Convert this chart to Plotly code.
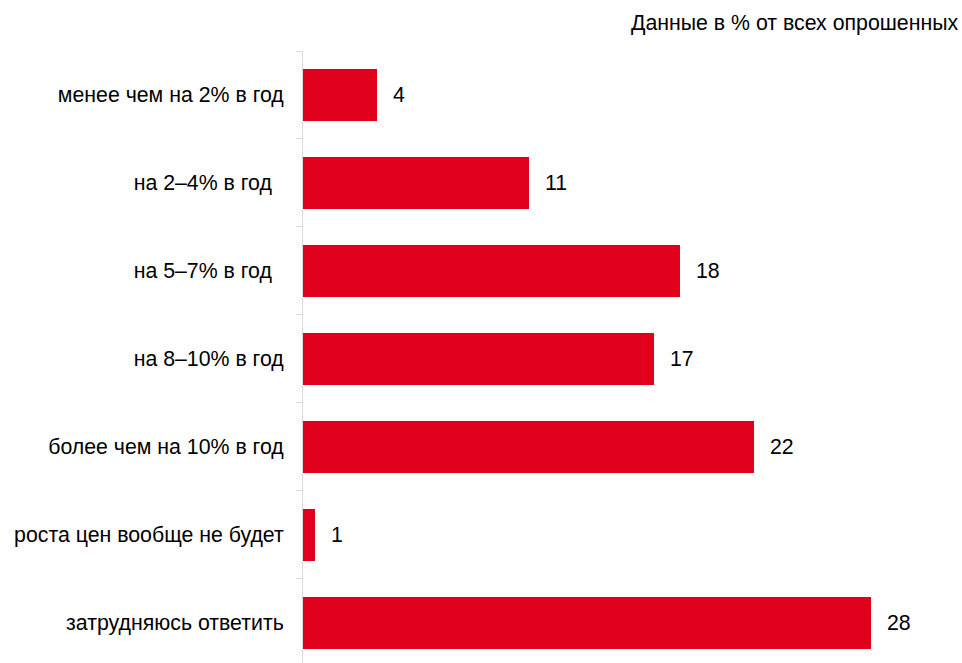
import plotly.graph_objects as go

categories = [
    "менее чем на 2% в год",
    "на 2–4% в год\u00a0\u00a0",
    "на 5–7% в год\u00a0\u00a0",
    "на 8–10% в год",
    "более чем на 10% в год",
    "роста цен вообще не будет",
    "затрудняюсь ответить",
]
values = [3.6, 11.0, 18.4, 17.1, 22.0, 0.6, 27.7]
value_labels = ["4", "11", "18", "17", "22", "1", "28"]
note = "Данные в % от всех опрошенных"

RED = "#E0001B"
FONT = "Liberation Sans, Arial, sans-serif"
FS = 21.3

fig = go.Figure()
fig.add_trace(go.Bar(
    y=categories, x=values, orientation="h",
    marker=dict(color=RED, line=dict(width=0)),
    width=0.59, hoverinfo="skip",
))

for c, v, t in zip(categories, values, value_labels):
    fig.add_annotation(x=v, y=c, text=t, showarrow=False, xanchor="left",
                       xshift=14, font=dict(family=FONT, size=FS, color="#000000"))

fig.add_annotation(xref="paper", yref="paper", x=1, y=1, xshift=42, yshift=28,
                   xanchor="right", yanchor="middle", text=note, showarrow=False,
                   font=dict(family=FONT, size=FS, color="#000000"))

fig.update_layout(
    width=962, height=663,
    margin=dict(l=303, r=44, t=51, b=0, autoexpand=False),
    plot_bgcolor="white", paper_bgcolor="white",
    showlegend=False, bargap=0,
    font=dict(family=FONT, size=FS, color="#000000"),
)
fig.update_xaxes(range=[0, 30], visible=False, showgrid=False, zeroline=False,
                 automargin=False)
fig.update_yaxes(
    type="category", categoryorder="array", categoryarray=categories,
    range=[6.455, -0.5], showgrid=False, zeroline=False, automargin=False,
    showline=True, linecolor="#d9d9d9", linewidth=1,
    ticks="outside", ticklen=6, tickcolor="#d9d9d9", tickson="boundaries",
    ticklabelstandoff=14,
    tickfont=dict(family=FONT, size=FS, color="#000000"),
)

fig.write_html("out.html", config={"displayModeBar": False},
               post_script="document.body.style.margin='0';document.body.style.overflow='hidden';")
